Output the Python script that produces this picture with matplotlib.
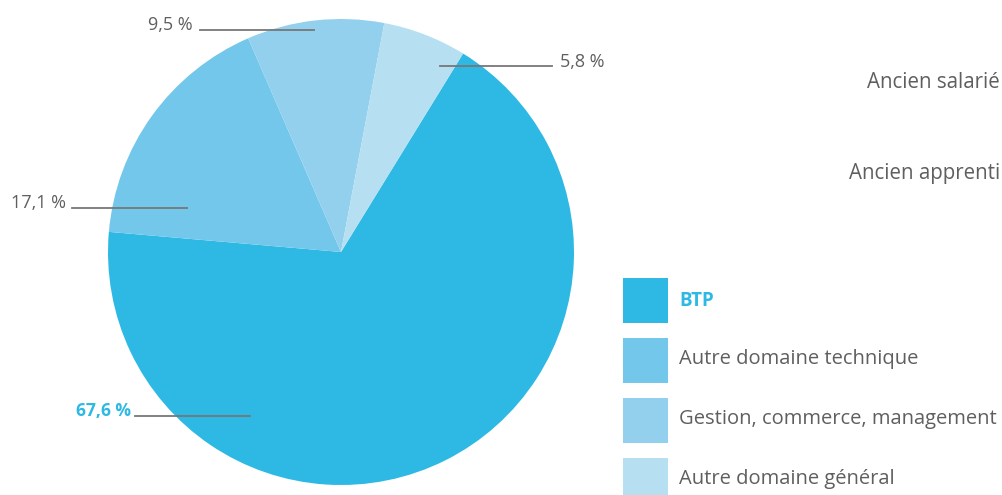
import matplotlib.pyplot as plt
from matplotlib.patches import Rectangle

categories = ['BTP', 'Autre domaine technique', 'Gestion, commerce, management', 'Autre domaine général']
values = [67.6, 17.1, 9.5, 5.8]
value_labels = ['67,6 %', '17,1 %', '9,5 %', '5,8 %']
colors = ['#2db9e4', '#73c7ea', '#92d0ee', '#b6dff1']
side_labels = ['Ancien salarié', 'Ancien apprenti']

W, H = 1002, 495
fig = plt.figure(figsize=(W / 100, H / 100), dpi=100)

# pie axes (pixel placement: centre 341,252 radius 233)
cx, cy, r = 341, 252, 233
ax = fig.add_axes([(cx - r) / W, (H - cy - r) / H, 2 * r / W, 2 * r / H])
ax.pie(values, colors=colors, startangle=58.4, counterclock=False, radius=1,
       wedgeprops=dict(linewidth=0))
ax.set_xlim(-1, 1)
ax.set_ylim(-1, 1)
ax.set_aspect('equal')
ax.axis('off')

# overlay in pixel coords for labels / legend
ov = fig.add_axes([0, 0, 1, 1], facecolor='none')
ov.set_xlim(0, W)
ov.set_ylim(H, 0)
ov.axis('off')

font = 'Open Sans'
grey = '#5f5f5f'
line_col = '#777777'

# leader lines and value labels: (line x0, x1, y, text x, text y, ha)
leaders = [
    (135, 250, 416, 131, 411, 'right'),
    (72, 187, 208, 66, 203, 'right'),
    (200, 314, 30, 193, 25, 'right'),
    (440, 552, 66, 560, 62, 'left'),
]
for i, (x0, x1, y, tx, ty, ha) in enumerate(leaders):
    ov.plot([x0, x1], [y, y], color=line_col, lw=1.3)
    if i == 0:
        ov.text(tx, ty, value_labels[i], ha=ha, va='center', fontsize=12.6,
                color=colors[0], fontweight='bold', family=font)
    else:
        ov.text(tx, ty, value_labels[i], ha=ha, va='center', fontsize=13,
                color=grey, family=font)

# right side labels
for lab, y in zip(side_labels, [83, 173]):
    ov.text(1000, y, lab, ha='right', va='center', fontsize=14.8, color=grey, family=font)

# legend
for i, (cat, col) in enumerate(zip(categories, colors)):
    top = 278 + 60 * i
    ov.add_patch(Rectangle((623, top), 45, 45, color=col, lw=0, clip_on=False))
    if i == 0:
        ov.text(679, top + 23, cat, ha='left', va='center', fontsize=13.5,
                color=col, fontweight='bold', family=font)
    else:
        ov.text(679, top + 21, cat, ha='left', va='center', fontsize=14.5,
                color=grey, family=font)

fig.savefig('out.png', dpi=100)
